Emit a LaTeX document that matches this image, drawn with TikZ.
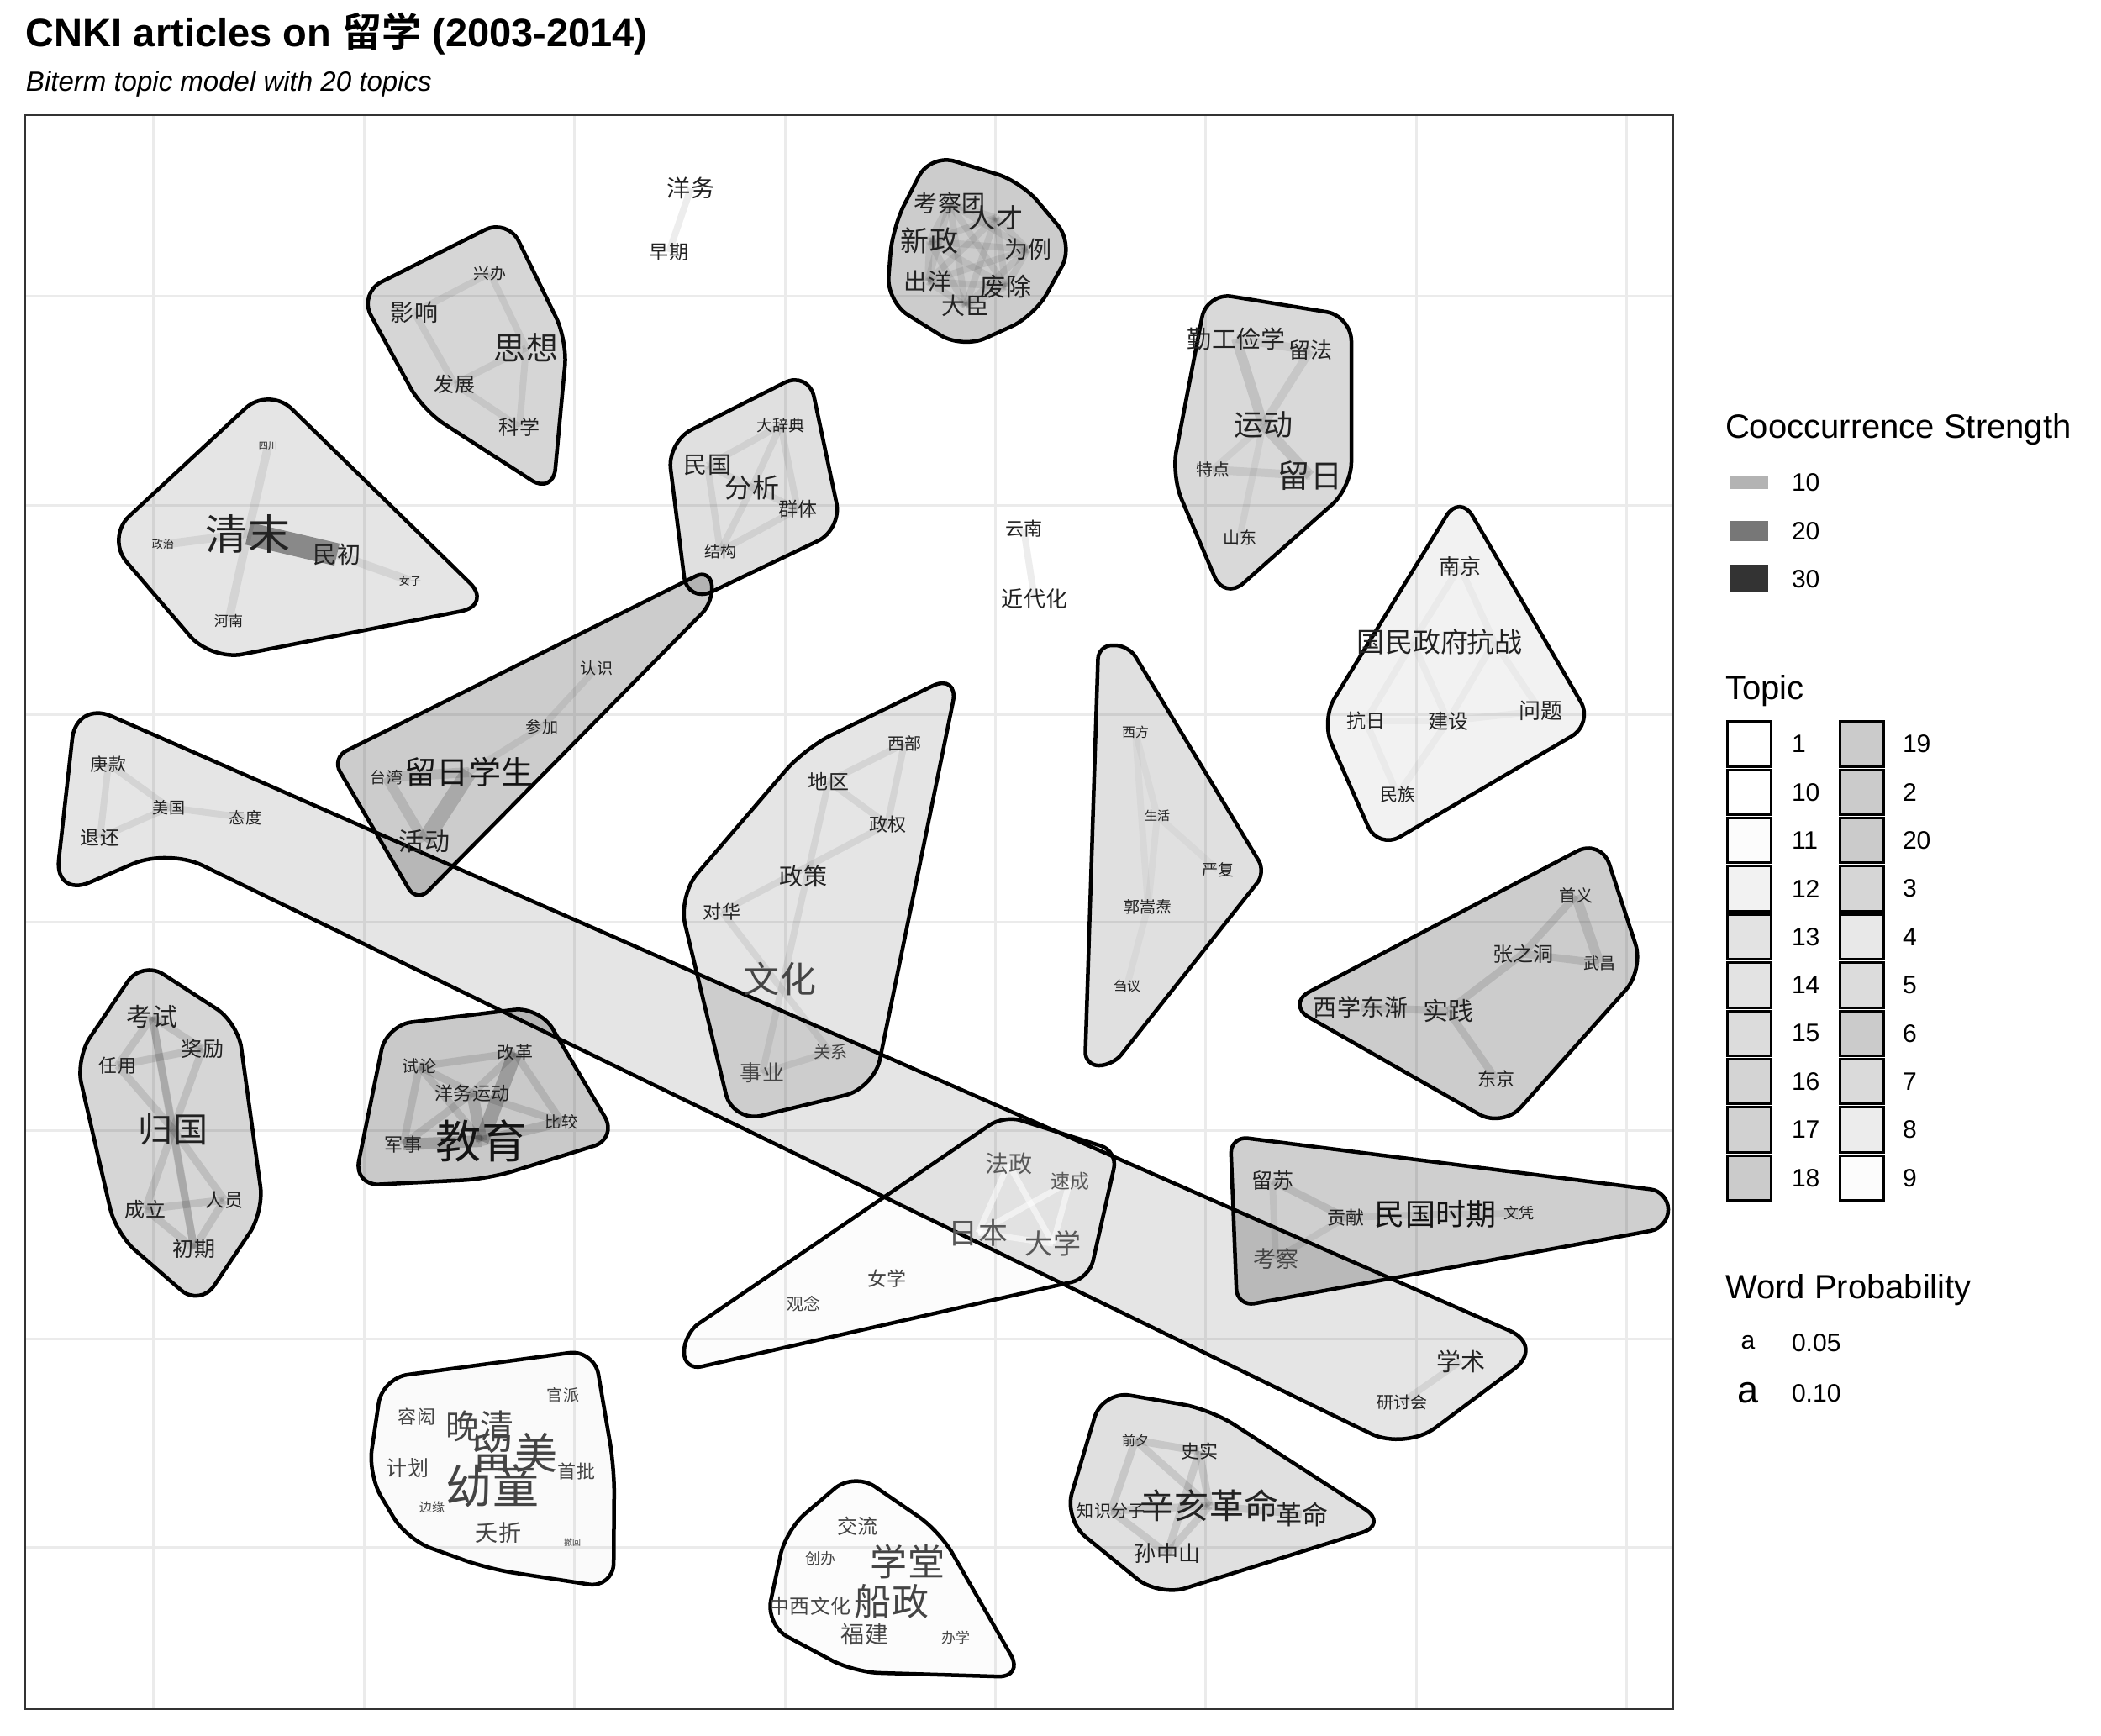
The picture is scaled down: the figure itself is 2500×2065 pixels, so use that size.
\documentclass[tikz,border=0pt]{standalone}
\usepackage{fontspec}
\setmainfont{Liberation Sans}
\newfontfamily\cjk{Noto Sans CJK SC}[BoldFont={Noto Sans CJK SC Bold}]
\pgfdeclarelayer{gridlayer}
\pgfdeclarelayer{hulllayer}
\pgfdeclarelayer{linklayer}
\pgfsetlayers{gridlayer,hulllayer,linklayer,main}
% font size given in picture units (1 unit = 0.01cm)
\newcommand\fpx[1]{\fontsize{\dimexpr 0.28453pt*#1\relax}{\dimexpr 0.34pt*#1\relax}\selectfont}
\definecolor{gridc}{HTML}{EBEBEB}
\definecolor{framec}{HTML}{333333}
\definecolor{wordc}{HTML}{222222}
\definecolor{wordd}{HTML}{141414}
\definecolor{wordg}{HTML}{444444}
\definecolor{wordl}{HTML}{585858}
\definecolor{cs10}{HTML}{B3B3B3}
\definecolor{cs20}{HTML}{777777}
\definecolor{cs30}{HTML}{333333}
\tikzset{
  ws/.style={font={\cjk\fpx{#1}}, text=wordc},
  hull/.style={draw=black, line width=0.045cm, fill=black, line join=round},
  lk/.style={draw=black, draw opacity=0.07, line width=0.08cm},
  md/.style={draw=black, draw opacity=0.11, line width=0.09cm},
  faint/.style={draw=black, draw opacity=0.03, line width=0.08cm},
  wl/.style={draw=white, draw opacity=0.55, line width=0.07cm},
  legtitle/.style={anchor=base west, font=\fpx{40}},
  leglab/.style={anchor=west, font=\fpx{30}},
}
\begin{document}
\begin{tikzpicture}[x=0.01cm, y=-0.01cm, every node/.style={inner sep=0pt, outer sep=0pt}]
\useasboundingbox (0,0) rectangle (2500,2065);

% ---------- background and panel grid ----------
\begin{pgfonlayer}{gridlayer}
\fill[white] (0,0) rectangle (2500,2065);
\foreach \gx in {182,433,683,934,1184,1434,1685,1935}
  \draw[gridc, line width=0.03cm] (\gx,137) -- (\gx,2034);
\foreach \gy in {352,601,850,1097,1345,1593,1841}
  \draw[gridc, line width=0.03cm] (30,\gy) -- (1991,\gy);
\end{pgfonlayer}

% ---------- topic hulls ----------
\begin{pgfonlayer}{hulllayer}
% band: 庚款 ... 学术
\draw[hull, fill opacity=0.10, rounded corners=0.45cm] (91,834) -- (1838,1602) -- (1672,1726) -- (200,1010) -- (65,1068) -- cycle;
% 思想
\draw[hull, fill opacity=0.16, rounded corners=0.3cm] (604,260) -- (675,405) -- (658,588) -- (503,488) -- (427,349) -- cycle;
% 清末
\draw[hull, fill opacity=0.10, rounded corners=0.38cm] (320,460) -- (586,720) -- (251,786) -- (126,640) -- cycle;
% 考察团
\draw[hull, fill opacity=0.20, rounded corners=0.3cm] (1107,183) -- (1215,216) -- (1278,291) -- (1231,376) -- (1145,415) -- (1055,359) -- (1062,271) -- cycle;
% 民国 / 分析
\draw[hull, fill opacity=0.12, rounded corners=0.32cm] (962,441) -- (1002,630) -- (818,718) -- (794,526) -- cycle;
% 运动 / 留日
\draw[hull, fill opacity=0.15, rounded corners=0.3cm] (1436,348) -- (1608,376) -- (1608,580) -- (1457,714) -- (1394,566) -- cycle;
% 国民政府
\draw[hull, fill opacity=0.05, rounded corners=0.3cm] (1737,588) -- (1896,861) -- (1640,1011) -- (1572,857) -- cycle;
% 留日学生
\draw[hull, fill opacity=0.20, rounded corners=0.19cm] (395,902) -- (845,677) -- (849,716) -- (496,1074) -- cycle;
% 归国
\draw[hull, fill opacity=0.16, rounded corners=0.3cm] (169,1143) -- (283,1217) -- (314,1442) -- (238,1555) -- (138,1468) -- (90,1260) -- cycle;
% 教育
\draw[hull, fill opacity=0.21, rounded corners=0.3cm] (460,1220) -- (642,1198) -- (735,1355) -- (581,1403) -- (421,1411) -- cycle;
% 文化
\draw[hull, fill opacity=0.10, rounded corners=0.35cm] (1141,801) -- (1040,1295) -- (872,1336) -- (807,1066) -- (958,890) -- cycle;
% 西方 / 郭嵩焘
\draw[hull, fill opacity=0.12, rounded corners=0.16cm] (1307,768) -- (1343,768) -- (1506,1038) -- (1324,1268) -- (1291,1268) -- cycle;
% 西学东渐
\draw[hull, fill opacity=0.20, rounded corners=0.32cm] (1530,1195) -- (1905,998) -- (1956,1154) -- (1788,1342) -- cycle;
% 幼童 / 留美
\draw[hull, fill opacity=0.02, rounded corners=0.3cm] (455,1640) -- (707,1606) -- (731,1747) -- (730,1890) -- (581,1867) -- (484,1832) -- (438,1755) -- cycle;
% 日本 / 法政
\draw[hull, fill opacity=0.01, rounded corners=0.21cm] (814,1587) -- (1195,1327) -- (1330,1370) -- (1296,1521) -- (814,1631) -- cycle;
% 学堂 / 船政
\draw[hull, fill opacity=0.01, rounded corners=0.3cm] (1016,1752) -- (1118,1822) -- (1218,1996) -- (1016,1990) -- (911,1934) -- (935,1821) -- cycle;
% 辛亥革命
\draw[hull, fill opacity=0.12, rounded corners=0.33cm] (1312,1655) -- (1440,1677) -- (1652,1814) -- (1379,1900) -- (1266,1808) -- cycle;
% 民国时期
\draw[hull, fill opacity=0.19, rounded corners=0.21cm] (1464,1352) -- (1985,1418) -- (1985,1461) -- (1472,1555) -- cycle;
\end{pgfonlayer}

% ---------- words ----------
\node[ws=28] (yangwu) at (822,224) {洋务};
\node[ws=23] (zaoqi) at (796,300) {早期};

\node[ws=19] (xingban) at (583,325) {兴办};
\node[ws=28] (yingxiang) at (493,372) {影响};
\node[ws=38] (sixiang) at (626,414) {思想};
\node[ws=24] (fazhan) at (541,457) {发展};
\node[ws=24] (kexue) at (618,508) {科学};

\node[ws=11] (sichuan) at (319,531) {四川};
\node[ws=13] (zhengzhi) at (194,648) {政治};
\node[ws=50] (qingmo) at (295,635) {清末};
\node[ws=28] (minchu) at (401,660) {民初};
\node[ws=13] (nvzi) at (488,691) {女子};
\node[ws=17] (henan) at (272,739) {河南};

\node[ws=28] (kaochatuan) at (1130,242) {考察团};
\node[ws=32] (rencai) at (1185,259) {人才};
\node[ws=34] (xinzheng) at (1106,287) {新政};
\node[ws=28] (weili) at (1223,297) {为例};
\node[ws=28] (chuyang) at (1104,335) {出洋};
\node[ws=30] (feichu) at (1197,341) {废除};
\node[ws=28] (dachen) at (1149,364) {大臣};

\node[ws=19] (dacidian) at (929,506) {大辞典};
\node[ws=28] (minguo) at (842,554) {民国};
\node[ws=32] (fenxi) at (895,580) {分析};
\node[ws=23] (qunti) at (949,606) {群体};
\node[ws=19] (jiegou) at (857,656) {结构};

\node[ws=22] (yunnan) at (1218,629) {云南};
\node[ws=26] (jindaihua) at (1231,713) {近代化};

\node[ws=29] (qingong) at (1471,403) {勤工俭学};
\node[ws=26] (liufa) at (1559,417) {留法};
\node[ws=35] (yundong) at (1503,506) {运动};
\node[ws=20] (tedian) at (1443,559) {特点};
\node[ws=38] (liuri) at (1559,566) {留日};
\node[ws=20] (shandong) at (1475,640) {山东};

\node[ws=25] (nanjing) at (1737,674) {南京};
\node[ws=33] (guomin) at (1681,764) {国民政府};
\node[ws=33] (kangzhan) at (1778,764) {抗战};
\node[ws=23] (kangri) at (1625,858) {抗日};
\node[ws=24] (jianshe) at (1723,858) {建设};
\node[ws=26] (wenti) at (1833,846) {问题};
\node[ws=21] (minzu) at (1663,946) {民族};

\node[ws=21] (gengkuan) at (129,909) {庚款};
\node[ws=19] (meiguo) at (201,961) {美国};
\node[ws=23] (tuihuan) at (119,997) {退还};
\node[ws=19] (taidu) at (292,973) {态度};
\node[ws=29] (xueshu) at (1738,1620) {学术};
\node[ws=20] (yantaohui) at (1668,1669) {研讨会};

\node[ws=19] (renshi) at (710,795) {认识};
\node[ws=19] (canjia) at (645,865) {参加};
\node[ws=19] (taiwan) at (460,925) {台湾};
\node[ws=38, text=wordd] (liurixs) at (558,919) {留日学生};
\node[ws=30] (huodong) at (505,1001) {活动};

\node[ws=30] (kaoshi) at (181,1210) {考试};
\node[ws=25] (jiangli) at (241,1248) {奖励};
\node[ws=22] (renyong) at (140,1268) {任用};
\node[ws=41] (guiguo) at (206,1344) {归国};
\node[ws=24] (chengli) at (173,1439) {成立};
\node[ws=22] (renyuan) at (267,1428) {人员};
\node[ws=25] (chuqi) at (231,1486) {初期};

\node[ws=20] (shilun) at (499,1269) {试论};
\node[ws=21] (gaige) at (613,1253) {改革};
\node[ws=22] (ywyd) at (562,1301) {洋务运动};
\node[ws=19] (bijiao) at (668,1335) {比较};
\node[ws=22] (junshi) at (480,1362) {军事};
\node[ws=54, text=wordd] (jiaoyu) at (573,1358) {教育};

\node[ws=20] (xibu) at (1076,885) {西部};
\node[ws=24] (diqu) at (986,930) {地区};
\node[ws=22] (zhengquan) at (1056,981) {政权};
\node[ws=28] (zhengce) at (956,1043) {政策};
\node[ws=22] (duihua) at (859,1085) {对华};
\node[ws=43, text=wordg] (wenhua) at (928,1165) {文化};
\node[ws=20, text=wordg] (guanxi) at (988,1252) {关系};
\node[ws=26, text=wordg] (shiye) at (907,1277) {事业};

\node[ws=16] (xifang) at (1351,871) {西方};
\node[ws=15] (shenghuo) at (1377,971) {生活};
\node[ws=19] (yanfu) at (1449,1035) {严复};
\node[ws=19] (guosongtao) at (1366,1079) {郭嵩焘};
\node[ws=16] (chuyi) at (1341,1173) {刍议};

\node[ws=20] (shouyi) at (1875,1066) {首义};
\node[ws=24] (zhang) at (1812,1135) {张之洞};
\node[ws=19] (wuchang) at (1903,1146) {武昌};
\node[ws=28] (xxdj) at (1619,1199) {西学东渐};
\node[ws=30] (shijian) at (1723,1203) {实践};
\node[ws=22] (dongjing) at (1780,1284) {东京};

\node[ws=19, text=wordg] (guanpai) at (670,1660) {官派};
\node[ws=22, text=wordg] (rongh) at (496,1686) {容闳};
\node[ws=40, text=wordg] (wanqing) at (571,1697) {晚清};
\node[ws=51, text=wordg] (liumei) at (612,1729) {留美};
\node[ws=55, text=wordg] (youtong) at (586,1768) {幼童};
\node[ws=25, text=wordg] (jihua) at (485,1747) {计划};
\node[ws=22, text=wordg] (shoupi) at (686,1751) {首批};
\node[ws=15, text=wordg] (bianyuan) at (514,1794) {边缘};
\node[ws=27, text=wordg] (yaozhe) at (593,1824) {夭折};
\node[ws=10, text=wordg] (chehui) at (681,1836) {撤回};

\node[ws=28, text=wordl] (fazheng) at (1200,1385) {法政};
\node[ws=23, text=wordl] (sucheng) at (1273,1406) {速成};
\node[ws=35, text=wordl] (riben) at (1164,1467) {日本};
\node[ws=33, text=wordl] (daxue) at (1253,1480) {大学};
\node[ws=23, text=wordg] (nvxue) at (1055,1522) {女学};
\node[ws=20, text=wordg] (guannian) at (956,1552) {观念};

\node[ws=24, text=wordg] (jiaoliu) at (1020,1816) {交流};
\node[ws=18, text=wordg] (chuangban) at (976,1855) {创办};
\node[ws=44, text=wordg] (xuetang) at (1080,1858) {学堂};
\node[ws=24, text=wordg] (zhongxi) at (964,1911) {中西文化};
\node[ws=44, text=wordg] (chuanzheng) at (1061,1906) {船政};
\node[ws=28, text=wordg] (fujian) at (1029,1945) {福建};
\node[ws=17, text=wordg] (banxue) at (1137,1949) {办学};

\node[ws=16] (qianxi) at (1351,1714) {前夕};
\node[ws=22] (shishi) at (1427,1727) {史实};
\node[ws=20] (zhishi) at (1322,1798) {知识分子};
\node[ws=41] (xinhai) at (1439,1792) {辛亥革命};
\node[ws=31] (geming) at (1549,1802) {革命};
\node[ws=26] (sunzs) at (1389,1849) {孙中山};

\node[ws=25] (liusu) at (1514,1405) {留苏};
\node[ws=22] (gongxian) at (1601,1449) {贡献};
\node[ws=36, text=wordd] (mgsq) at (1708,1445) {民国时期};
\node[ws=18] (wenping) at (1807,1444) {文凭};
\node[ws=27, text=wordg] (kaocha) at (1518,1498) {考察};

% ---------- co-occurrence links ----------
\begin{pgfonlayer}{linklayer}
\draw[lk] (yangwu.center) -- (zaoqi.center);
\draw[lk] (yunnan.center) -- (jindaihua.center);
\foreach \a/\b in {xingban/yingxiang, xingban/sixiang, yingxiang/fazhan, fazhan/sixiang, fazhan/kexue, sixiang/kexue}
  \draw[lk] (\a.center) -- (\b.center);
\foreach \a/\b in {sichuan/qingmo, qingmo/henan, zhengzhi/qingmo, minchu/nvzi}
  \draw[lk, line width=0.1cm] (\a.center) -- (\b.center);
\draw[draw=black, draw opacity=0.40, line width=0.27cm] (qingmo.center) -- (minchu.center);
\foreach \a/\b in {kaochatuan/rencai, kaochatuan/xinzheng, kaochatuan/weili, kaochatuan/chuyang, kaochatuan/feichu, kaochatuan/dachen,
  rencai/xinzheng, rencai/weili, rencai/chuyang, rencai/feichu, rencai/dachen,
  xinzheng/weili, xinzheng/chuyang, xinzheng/feichu, xinzheng/dachen,
  weili/chuyang, weili/feichu, weili/dachen, chuyang/feichu, chuyang/dachen, feichu/dachen}
  \draw[lk, draw opacity=0.08] (\a.center) -- (\b.center);
\foreach \a/\b in {minguo/dacidian, dacidian/fenxi, dacidian/qunti, minguo/fenxi, minguo/jiegou, fenxi/jiegou, fenxi/qunti, qunti/jiegou}
  \draw[lk] (\a.center) -- (\b.center);
\draw[md, line width=0.12cm] (qingong.center) -- (yundong.center);
\draw[md, line width=0.12cm] (yundong.center) -- (liuri.center);
\draw[md, draw opacity=0.08, line width=0.1cm] (liufa.center) -- (yundong.center);
\draw[md, draw opacity=0.08, line width=0.1cm] (tedian.center) -- (liuri.center);
\draw[md, draw opacity=0.07, line width=0.1cm] (qingong.center) -- (liufa.center);
\draw[lk, draw opacity=0.05] (yundong.center) -- (tedian.center);
\draw[lk, draw opacity=0.05] (yundong.center) -- (shandong.center);
\foreach \a/\b in {nanjing/guomin, nanjing/kangzhan, guomin/kangri, guomin/jianshe, kangzhan/jianshe, kangzhan/wenti, kangri/jianshe, jianshe/wenti, kangri/minzu, minzu/jianshe}
  \draw[faint] (\a.center) -- (\b.center);
\foreach \a/\b in {gengkuan/meiguo, gengkuan/tuihuan, meiguo/tuihuan, meiguo/taidu, xueshu/yantaohui}
  \draw[lk] (\a.center) -- (\b.center);
\draw[lk] (renshi.center) -- (canjia.center);
\draw[lk] (canjia.center) -- (liurixs.center);
\draw[md, line width=0.12cm] (taiwan.center) -- (liurixs.center);
\draw[md, line width=0.12cm] (taiwan.center) -- (huodong.center);
\draw[draw=black, draw opacity=0.17, line width=0.19cm] (liurixs.center) -- (huodong.center);
\foreach \a/\b in {kaoshi/jiangli, kaoshi/renyong, kaoshi/guiguo, renyong/jiangli, renyong/guiguo, jiangli/guiguo, guiguo/chengli, guiguo/renyuan, guiguo/chuqi, chengli/renyuan, chengli/chuqi, renyuan/chuqi, kaoshi/chuqi}
  \draw[md] (\a.center) -- (\b.center);
\foreach \a/\b in {shilun/gaige, shilun/ywyd, shilun/jiaoyu, shilun/junshi, gaige/ywyd, gaige/bijiao, ywyd/junshi, ywyd/bijiao}
  \draw[md] (\a.center) -- (\b.center);
\draw[draw=black, draw opacity=0.22, line width=0.17cm] (gaige.center) -- (jiaoyu.center);
\draw[draw=black, draw opacity=0.16, line width=0.14cm] (ywyd.center) -- (jiaoyu.center);
\draw[draw=black, draw opacity=0.20, line width=0.14cm] (junshi.center) -- (jiaoyu.center);
\draw[draw=black, draw opacity=0.13, line width=0.12cm] (bijiao.center) -- (jiaoyu.center);
\foreach \a/\b in {xibu/diqu, xibu/zhengquan, diqu/zhengquan, diqu/shiye, zhengquan/duihua, duihua/guanxi, shiye/guanxi}
  \draw[lk] (\a.center) -- (\b.center);
\foreach \a/\b in {xifang/shenghuo, xifang/guosongtao, shenghuo/guosongtao, shenghuo/yanfu, guosongtao/chuyi}
  \draw[faint] (\a.center) -- (\b.center);
\foreach \a/\b in {shouyi/zhang, zhang/wuchang, zhang/shijian, xxdj/shijian, shijian/dongjing}
  \draw[md] (\a.center) -- (\b.center);
\draw[md, line width=0.12cm] (shouyi.center) -- (wuchang.center);
\foreach \a/\b in {fazheng/riben, fazheng/daxue, riben/daxue, sucheng/riben, sucheng/daxue}
  \draw[wl] (\a.center) -- (\b.center);
\foreach \a/\b in {qianxi/shishi, qianxi/zhishi, qianxi/xinhai, shishi/xinhai, shishi/sunzs, xinhai/geming, zhishi/sunzs, sunzs/xinhai, zhishi/xinhai}
  \draw[md] (\a.center) -- (\b.center);
\draw[md] (liusu.center) -- (gongxian.center);
\foreach \a/\b in {liusu/kaocha, gongxian/kaocha, gongxian/mgsq, mgsq/wenping}
  \draw[lk] (\a.center) -- (\b.center);
\end{pgfonlayer}

% ---------- panel frame ----------
\draw[framec, line width=0.02cm] (30,137) rectangle (1991,2034);

% ---------- titles ----------
\node[anchor=base west, font=\bfseries\fpx{47}] (title) at (31,55) {CNKI articles on {\cjk 留学} (2003-2014)};
\node[anchor=base west, font=\itshape\fpx{33}] (subtitle) at (31,108) {Biterm topic model with 20 topics};

% ---------- legend: cooccurrence strength ----------
\node[legtitle] (cotitle) at (2053,521) {Cooccurrence Strength};
\fill[cs10] (2058,567) rectangle (2104,582);
\fill[cs20] (2058,620) rectangle (2104,644);
\fill[cs30] (2058,672) rectangle (2104,705);
\node[leglab] (co10) at (2132,574) {10};
\node[leglab] (co20) at (2132,632) {20};
\node[leglab] (co30) at (2132,689) {30};

% ---------- legend: topic ----------
\node[legtitle] (topictitle) at (2053,832) {Topic};
\foreach \lab/\col [count=\i from 0] in {1/FFFFFF,10/FFFFFF,11/FCFCFC,12/F2F2F2,13/E3E3E3,14/E3E3E3,15/DCDCDC,16/D4D4D4,17/D1D1D1,18/CBCBCB}{
  \pgfmathsetmacro\ya{856.6+57.4*\i}
  \pgfmathsetmacro\yc{\ya+28.7}
  \edef\tmpdef{\noexpand\definecolor{keyc}{HTML}{\col}}\tmpdef
  \draw[fill=keyc, line width=0.03cm] (2055,\ya+2) rectangle (2107,\ya+55.4);
  \node[leglab] (topic\lab) at (2132,\yc) {\lab};
}
\foreach \lab/\col [count=\i from 0] in {19/CBCBCB,2/CBCBCB,20/CBCBCB,3/D6D6D6,4/E8E8E8,5/DCDCDC,6/CBCBCB,7/DADADA,8/ECECEC,9/FCFCFC}{
  \pgfmathsetmacro\ya{856.6+57.4*\i}
  \pgfmathsetmacro\yc{\ya+28.7}
  \edef\tmpdef{\noexpand\definecolor{keyc}{HTML}{\col}}\tmpdef
  \draw[fill=keyc, line width=0.03cm] (2189,\ya+2) rectangle (2241,\ya+55.4);
  \node[leglab] (topic\lab) at (2264,\yc) {\lab};
}

% ---------- legend: word probability ----------
\node[legtitle] (wptitle) at (2053,1545) {Word Probability};
\node[font=\fpx{30}] (wpa1) at (2080,1598) {a};
\node[font=\fpx{45}] (wpa2) at (2080,1658) {a};
\node[leglab] (wp1) at (2132,1598) {0.05};
\node[leglab] (wp2) at (2132,1658) {0.10};
\end{tikzpicture}
\end{document}
